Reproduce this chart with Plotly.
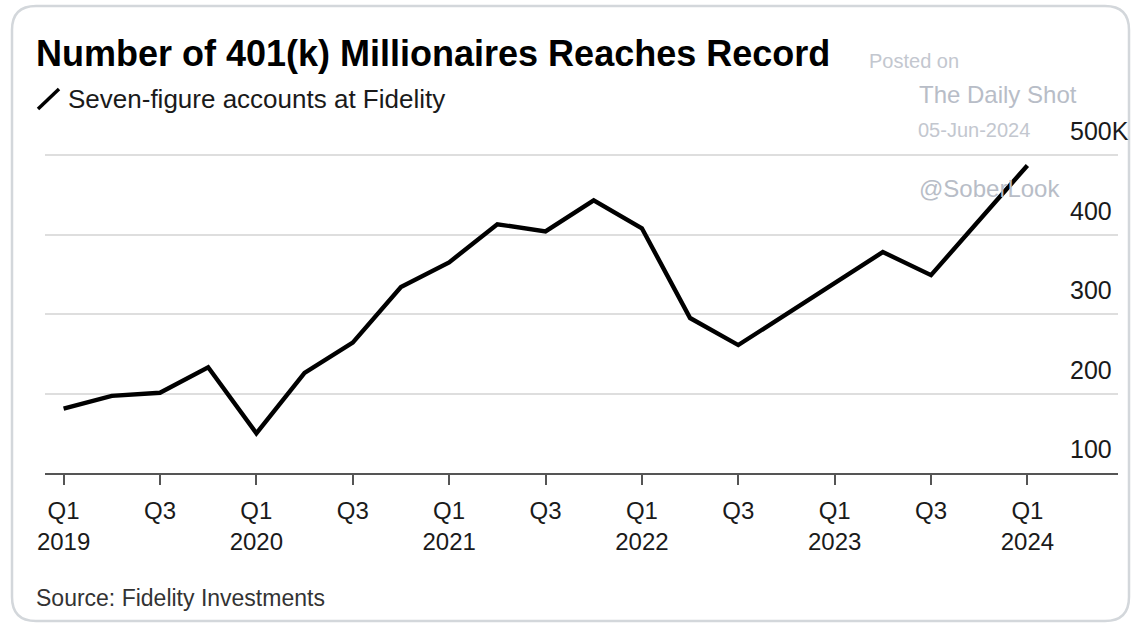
import plotly.graph_objects as go

# ---- data ----
quarters = ["Q1 2019", "Q2 2019", "Q3 2019", "Q4 2019",
            "Q1 2020", "Q2 2020", "Q3 2020", "Q4 2020",
            "Q1 2021", "Q2 2021", "Q3 2021", "Q4 2021",
            "Q1 2022", "Q2 2022", "Q3 2022", "Q4 2022",
            "Q1 2023", "Q2 2023", "Q3 2023", "Q4 2023",
            "Q1 2024"]
millionaires_k = [181, 197, 201, 233,
                  150, 226, 264, 334,
                  365, 413, 404, 443,
                  408, 295, 261, 300,
                  340, 378, 349, 418,
                  487]
x_tick_labels = ["Q1<br>2019", "Q3", "Q1<br>2020", "Q3", "Q1<br>2021", "Q3",
                 "Q1<br>2022", "Q3", "Q1<br>2023", "Q3", "Q1<br>2024"]
y_tick_values = [100, 200, 300, 400, 500]
y_tick_labels = ["100", "200", "300", "400", "500K"]

W, H = 1133, 625
ML, MR, MT, MB = 45, 15, 140, 152
PW = W - ML - MR
PH = H - MT - MB


def px(x):
    return (x - ML) / PW


def py(y):
    return (H - MB - y) / PH


FONT = "Liberation Sans, Arial, sans-serif"
xidx = list(range(len(quarters)))

fig = go.Figure()
fig.add_trace(go.Scatter(
    x=xidx, y=millionaires_k, mode="lines",
    line=dict(color="#000000", width=4.4),
    hoverinfo="skip", showlegend=False,
    customdata=quarters,
))

fig.update_layout(
    width=W, height=H,
    margin=dict(l=ML, r=MR, t=MT, b=MB),
    paper_bgcolor="white", plot_bgcolor="white",
    font=dict(family=FONT, color="#1a1a1a"),
    xaxis=dict(
        range=[-0.386, 21.88],
        tickmode="array",
        tickvals=list(range(0, 21, 2)),
        ticktext=x_tick_labels,
        ticks="outside", ticklen=10, tickwidth=1.5, tickcolor="#555555",
        ticklabelstandoff=5,
        showline=True, linecolor="#555555", linewidth=2,
        showgrid=False, zeroline=False,
        tickfont=dict(size=24, color="#1a1a1a", family=FONT),
        fixedrange=True,
    ),
    yaxis=dict(
        range=[100, 519],
        tickmode="array", tickvals=y_tick_values,
        showticklabels=False,
        showgrid=True, gridcolor="#dedede", gridwidth=1.5,
        zeroline=False, showline=False,
        fixedrange=True,
    ),
)

annotations = []
# y tick labels placed above the gridlines on the right
for v, t in zip(y_tick_values, y_tick_labels):
    annotations.append(dict(
        x=px(1068), xref="paper", y=v, yref="y",
        text=t, showarrow=False, xanchor="left", yanchor="middle",
        yshift=24, font=dict(size=25, color="#1a1a1a", family=FONT),
    ))

# title and subtitle
annotations.append(dict(
    x=px(34), y=py(53), xref="paper", yref="paper",
    text="<b>Number of 401(k) Millionaires Reaches Record</b>",
    showarrow=False, xanchor="left", yanchor="middle",
    font=dict(size=36, color="#000000", family=FONT),
))
annotations.append(dict(
    x=px(66), y=py(99), xref="paper", yref="paper",
    text="Seven-figure accounts at Fidelity",
    showarrow=False, xanchor="left", yanchor="middle",
    font=dict(size=26, color="#1a1a1a", family=FONT),
))
# source
annotations.append(dict(
    x=px(34), y=py(598), xref="paper", yref="paper",
    text="Source: Fidelity Investments",
    showarrow=False, xanchor="left", yanchor="middle",
    font=dict(size=23, color="#333333", family=FONT),
))
# watermark
WM = "#b8bdc7"
annotations += [
    dict(x=px(867), y=py(61), text="Posted on", font=dict(size=20, color="#c3c7cf", family=FONT)),
    dict(x=px(917), y=py(94), text="The Daily Shot", font=dict(size=24, color=WM, family=FONT)),
    dict(x=px(916), y=py(130), text="05-Jun-2024", font=dict(size=20, color="#c3c7cf", family=FONT)),
    dict(x=px(917), y=py(188), text="@SoberLook", font=dict(size=24, color=WM, family=FONT)),
]
for a in annotations[-4:]:
    a.update(xref="paper", yref="paper", showarrow=False, xanchor="left", yanchor="middle")

fig.update_layout(annotations=annotations)

# legend slash icon
shapes = [dict(
    type="line", xref="paper", yref="paper",
    x0=px(38), y0=py(109), x1=px(59), y1=py(89),
    line=dict(color="#000000", width=3.5),
)]

# card border with rounded corners
L, T, R, B, r = 12, 6, 1129, 621, 24
path = (f"M {px(L + r)},{py(T)} L {px(R - r)},{py(T)} "
        f"Q {px(R)},{py(T)} {px(R)},{py(T + r)} "
        f"L {px(R)},{py(B - r)} Q {px(R)},{py(B)} {px(R - r)},{py(B)} "
        f"L {px(L + r)},{py(B)} Q {px(L)},{py(B)} {px(L)},{py(B - r)} "
        f"L {px(L)},{py(T + r)} Q {px(L)},{py(T)} {px(L + r)},{py(T)} Z")
shapes.append(dict(type="path", xref="paper", yref="paper", path=path,
                   line=dict(color="#d3d7db", width=2.5), layer="below"))
fig.update_layout(shapes=shapes)

fig.write_html("out.html", config={"displayModeBar": False})
